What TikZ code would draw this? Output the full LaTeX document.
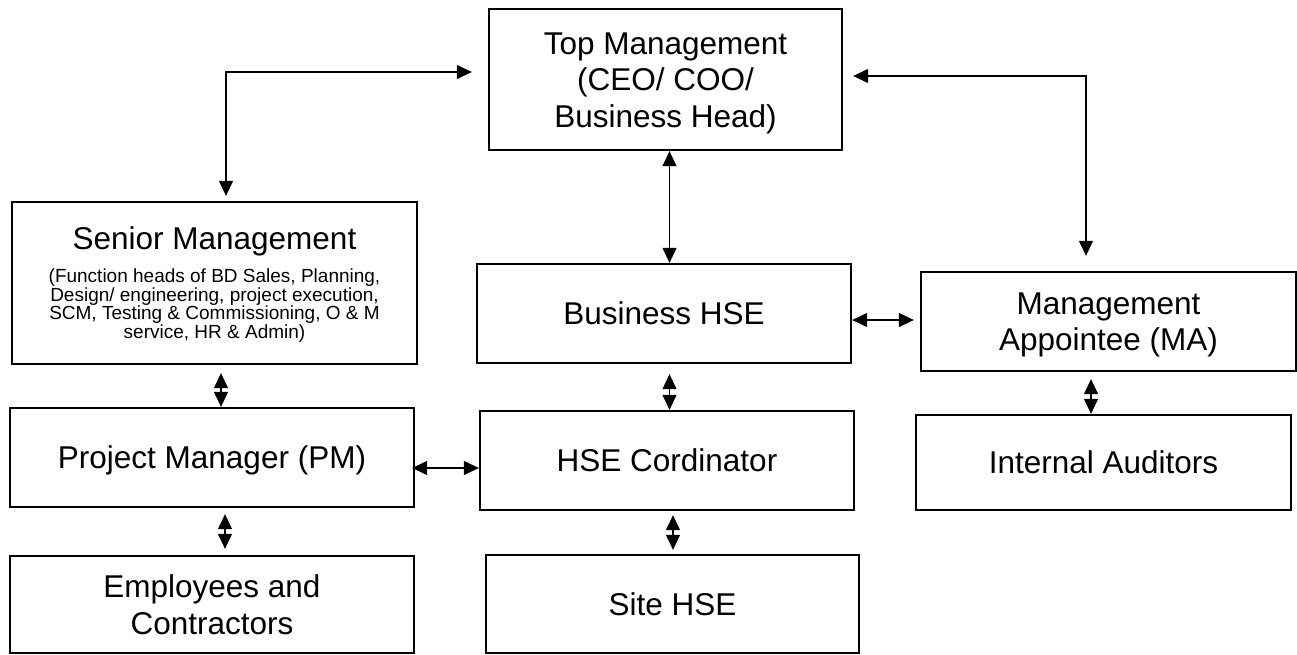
\documentclass[tikz,border=0pt]{standalone}
\usepackage{fontspec}
\setmainfont{Liberation Sans}
\usetikzlibrary{arrows.meta}
\newcommand\topstrut{\rule{0pt}{29pt}}
\begin{document}
\begin{tikzpicture}[x=1pt,y=-1pt,
  box/.style={draw=black, line width=2.3pt, inner sep=0pt, align=flush center,
    font=\fontsize{31.5}{36.5}\selectfont},
  link/.style={draw=black, line width=1.2pt,
    {Triangle[length=15pt,width=14pt]}-{Triangle[length=15pt,width=14pt]}}
]
\useasboundingbox (0,0) rectangle (1297,654);
\fill[white] (0,0) rectangle (1297,654);

\node[box, minimum width=353pt, text width=340pt, minimum height=141pt] (top) at (665.5,79.5)
  {\topstrut Top Management\\(CEO/ COO/\\Business Head)};
\node[box, minimum width=405pt, text width=395pt, minimum height=162pt] (sm) at (214.5,283)
  {\rule{0pt}{26.5pt}Senior Management\\[11pt]{\fontsize{19}{18.8}\selectfont (Function heads of BD Sales, Planning,\\Design/ engineering, project execution,\\SCM, Testing \& Commissioning, O \& M\\service, HR \& Admin)\par}};
\node[box, minimum width=374pt, text width=360pt, minimum height=99pt] (bhse) at (664,313.5)
  {Business HSE};
\node[box, minimum width=375pt, text width=360pt, minimum height=99pt] (ma) at (1108.5,321.5)
  {\topstrut Management\\Appointee (MA)};
\node[box, minimum width=404pt, text width=390pt, minimum height=99pt] (pm) at (212,457.5)
  {\topstrut Project Manager (PM)};
\node[box, minimum width=374pt, text width=360pt, minimum height=99pt] (hsec) at (667,460.5)
  {HSE Cordinator};
\node[box, minimum width=375pt, text width=360pt, minimum height=95pt] (ia) at (1103.5,462.5)
  {Internal Auditors};
\node[box, minimum width=404pt, text width=390pt, minimum height=97pt] (ec) at (212,604.5)
  {Employees and\\Contractors};
\node[box, minimum width=373pt, text width=360pt, minimum height=98pt] (site) at (672.5,604)
  {Site HSE};

% elbow connectors from top management
\draw[link, shorten <=5pt, shorten >=16pt] ([xshift=11.5pt]sm.north) |- ([yshift=7.5pt]top.west);
\draw[link, shorten <=10pt, shorten >=15pt] ([yshift=3.5pt]top.east) -| ([xshift=-22.5pt]ma.north);
% vertical connectors
\draw[link] ([xshift=4pt]top.south) -- ([xshift=4pt]top.south |- bhse.north);
\draw[link, shorten <=10pt] ([xshift=5.5pt]bhse.south) -- ([xshift=5.5pt]bhse.south |- hsec.north);
\draw[link, shorten <=4pt, shorten >=4pt] ([xshift=6pt]hsec.south) -- ([xshift=6pt]hsec.south |- site.north);
\draw[link, shorten <=8pt] ([xshift=6.5pt]sm.south) -- ([xshift=6.5pt]sm.south |- pm.north);
\draw[link, shorten <=6pt, shorten >=6pt] ([xshift=13pt]pm.south) -- ([xshift=13pt]pm.south |- ec.north);
\draw[link, shorten <=7pt] ([xshift=-17.5pt]ma.south) -- ([xshift=-17.5pt]ma.south |- ia.north);
% horizontal connectors
\draw[link, shorten >=6pt] ([yshift=-6.5pt]bhse.east) -- ([yshift=-6.5pt]bhse.east -| ma.west);
\draw[link, shorten <=-3pt] ([yshift=-10.5pt]pm.east) -- ([yshift=-10.5pt]pm.east -| hsec.west);
\end{tikzpicture}
\end{document}
